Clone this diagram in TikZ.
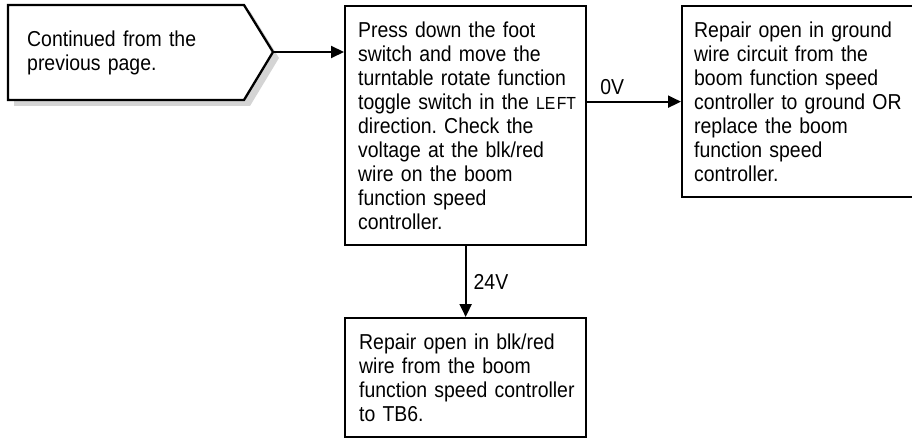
\documentclass[tikz,border=0pt]{standalone}
\usepackage{fontspec}
\setmainfont[FakeStretch=0.9]{Liberation Sans}
\usetikzlibrary{arrows.meta}
\newcommand\Ln[1]{\mbox{#1}}
\frenchspacing
\begin{document}
\begin{tikzpicture}[x=1pt,y=-1pt,
  every node/.style={font=\fontsize{21.6}{24}\selectfont},
  box/.style={draw, line width=2.3pt, anchor=north west, inner ysep=0pt, align=left},
  arr/.style={line width=2pt, -{Triangle[length=13pt,width=12pt]}},
  lbl/.style={inner sep=0pt}]
\useasboundingbox (0,0) rectangle (912,438);
\clip (0,0) rectangle (912,438);
% start box with shadow
\fill[black!17] (14,11) -- (250,11) -- (279,58) -- (250,106) -- (14,106) -- cycle;
\filldraw[fill=white, line width=2.3pt, line join=miter] (8,5) -- (244,5) -- (273,52) -- (244,100) -- (8,100) -- cycle;
\node[anchor=north west, inner xsep=19pt, inner ysep=0pt, text width=220pt, minimum height=95pt, align=left] (start) at (8,5)
  {\Ln{Continued from the}\\\Ln{previous page.}};
\coordinate (apex) at (273,52);
% main box
\node[box, inner xsep=13pt, text width=215pt, minimum height=239pt] (main) at (344,5)
  {\Ln{Press down the foot}\\\Ln{switch and move the}\\\Ln{turntable rotate function}\\\Ln{toggle switch in the {\fontsize{17.5}{24}\selectfont LE\kern1.5pt FT}}\\\Ln{direction. Check the}\\\Ln{voltage at the blk/red}\\\Ln{wire on the boom}\\\Ln{function speed}\\\Ln{controller.}};
% right box
\node[box, inner xsep=12pt, text width=211pt, minimum height=191pt] (right) at (681,5)
  {\Ln{Repair open in ground}\\\Ln{wire circuit from the}\\\Ln{boom function speed}\\\Ln{controller to ground OR}\\\Ln{replace the boom}\\\Ln{function speed}\\\Ln{controller.}};
% bottom box
\node[box, inner xsep=14pt, text width=213pt, minimum height=119pt] (bottom) at (344,317)
  {\Ln{Repair open in blk/red}\\\Ln{wire from the boom}\\\Ln{function speed controller}\\\Ln{to TB6.}};
% connectors
\draw[arr] (apex) -- (apex -| main.west);
\draw[arr] (right.west -| main.east) -- node[lbl, pos=0, anchor=base west, xshift=12pt, yshift=7pt] {0V} (right.west);
\draw[arr] (main.south) -- node[lbl, right, xshift=7pt] {24V} (bottom.north);
\end{tikzpicture}
\end{document}
